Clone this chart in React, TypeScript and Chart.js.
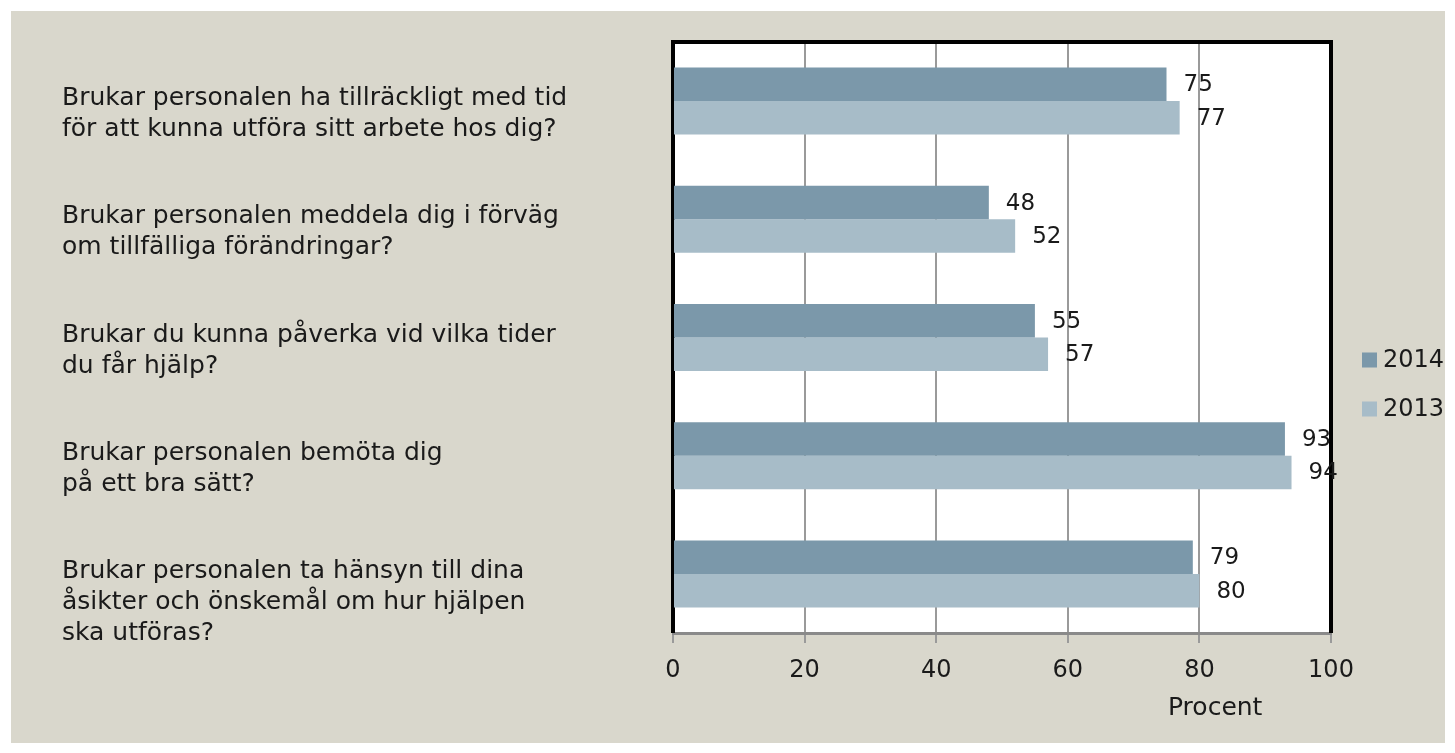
import { useEffect, useRef } from 'react';
import { Chart, registerables } from 'chart.js';

Chart.register(...registerables);

const categories: string[][] = [
  ['Brukar personalen ha tillräckligt med tid', 'för att kunna utföra sitt arbete hos dig?'],
  ['Brukar personalen meddela dig i förväg', 'om tillfälliga förändringar?'],
  ['Brukar du kunna påverka vid vilka tider', 'du får hjälp?'],
  ['Brukar personalen bemöta dig', 'på ett bra sätt?'],
  ['Brukar personalen ta hänsyn till dina', 'åsikter och önskemål om hur hjälpen', 'ska utföras?'],
];
const seriesLabels = ['2014', '2013'];
const values2014 = [75, 48, 55, 93, 79];
const values2013 = [77, 52, 57, 94, 80];
const seriesColors = ['#7B98AA', '#A7BCC8'];
const xMin = 0;
const xMax = 100;
const xStep = 20;
const axisTitle = 'Procent';

const FONT = '"DejaVu Sans", sans-serif';
const TEXT = '#1a1a1a';

const customPlugin = {
  id: 'customDraw',
  beforeDraw(chart: any) {
    const { ctx, chartArea: a } = chart;
    ctx.save();
    ctx.fillStyle = '#ffffff';
    ctx.fillRect(a.left, a.top, a.right - a.left, a.bottom - a.top);
    ctx.restore();
  },
  beforeDatasetsDraw(chart: any) {
    const { ctx, chartArea: a } = chart;
    ctx.save();
    ctx.strokeStyle = '#000000';
    ctx.lineWidth = 4;
    ctx.beginPath();
    ctx.moveTo(a.left, a.bottom);
    ctx.lineTo(a.left, a.top);
    ctx.lineTo(a.right, a.top);
    ctx.lineTo(a.right, a.bottom);
    ctx.stroke();
    ctx.restore();
  },
  afterDatasetsDraw(chart: any) {
    const { ctx } = chart;
    ctx.save();
    ctx.font = `23px ${FONT}`;
    ctx.fillStyle = TEXT;
    ctx.textAlign = 'left';
    ctx.textBaseline = 'middle';
    chart.data.datasets.forEach((ds: any, di: number) => {
      const meta = chart.getDatasetMeta(di);
      meta.data.forEach((bar: any, i: number) => {
        ctx.fillText(String(ds.data[i]), bar.x + 17, bar.y + 1);
      });
    });
    ctx.restore();
  },
  afterDraw(chart: any) {
    const { ctx, chartArea: a } = chart;
    const yScale = chart.scales.y;
    ctx.save();
    // category labels
    ctx.font = `25px ${FONT}`;
    ctx.fillStyle = TEXT;
    ctx.textAlign = 'left';
    ctx.textBaseline = 'alphabetic';
    (chart.data.labels as string[][]).forEach((lines, i) => {
      const cy = yScale.getPixelForTick(i);
      lines.forEach((line, li) => {
        ctx.fillText(line, 51, cy + 4 + li * 31);
      });
    });
    // legend
    ctx.font = `24px ${FONT}`;
    ctx.textBaseline = 'middle';
    chart.data.datasets.forEach((ds: any, di: number) => {
      const cy = 349 + di * 49;
      ctx.fillStyle = ds.backgroundColor;
      ctx.fillRect(a.right + 31, cy - 7.5, 15, 15);
      ctx.fillStyle = TEXT;
      ctx.fillText(ds.label, a.right + 52, cy + 1);
    });
    // axis title
    ctx.font = `25px ${FONT}`;
    ctx.textAlign = 'center';
    ctx.fillText(axisTitle, a.left + (a.right - a.left) * 0.824, 697);
    ctx.restore();
  },
};

export default function App() {
  const canvasRef = useRef<HTMLCanvasElement | null>(null);

  useEffect(() => {
    if (!canvasRef.current) return;
    const chart = new Chart(canvasRef.current, {
      type: 'bar',
      data: {
        labels: categories,
        datasets: [
          {
            label: seriesLabels[0],
            data: values2014,
            backgroundColor: seriesColors[0],
            borderWidth: 0,
            categoryPercentage: 0.567,
            barPercentage: 1,
          },
          {
            label: seriesLabels[1],
            data: values2013,
            backgroundColor: seriesColors[1],
            borderWidth: 0,
            categoryPercentage: 0.567,
            barPercentage: 1,
          },
        ],
      },
      options: {
        indexAxis: 'y',
        responsive: false,
        animation: false,
        layout: { padding: { left: 662, right: 114, top: 31, bottom: 0 } },
        plugins: {
          legend: { display: false },
          tooltip: { enabled: false },
          title: { display: false },
        },
        scales: {
          y: {
            display: false,
          },
          x: {
            min: xMin,
            max: xMax,
            ticks: {
              stepSize: xStep,
              color: TEXT,
              font: { family: FONT, size: 24 },
              padding: 13,
            },
            grid: {
              color: '#9a9a9a',
              lineWidth: 2,
              tickLength: 10,
              drawTicks: true,
            },
            border: { display: true, color: '#8a8a8a', width: 3 },
            afterFit: (scale: any) => {
              scale.height = 110;
            },
          },
        },
      },
      plugins: [customPlugin],
    });
    return () => chart.destroy();
  }, []);

  return (
    <div style={{ position: 'fixed', inset: 0, background: '#ffffff' }}>
      <div
        style={{
          position: 'absolute',
          left: 11,
          top: 11,
          width: 1434,
          height: 732,
          background: '#D9D7CC',
        }}
      >
        <canvas ref={canvasRef} width={1434} height={732} style={{ display: 'block' }} />
      </div>
    </div>
  );
}
